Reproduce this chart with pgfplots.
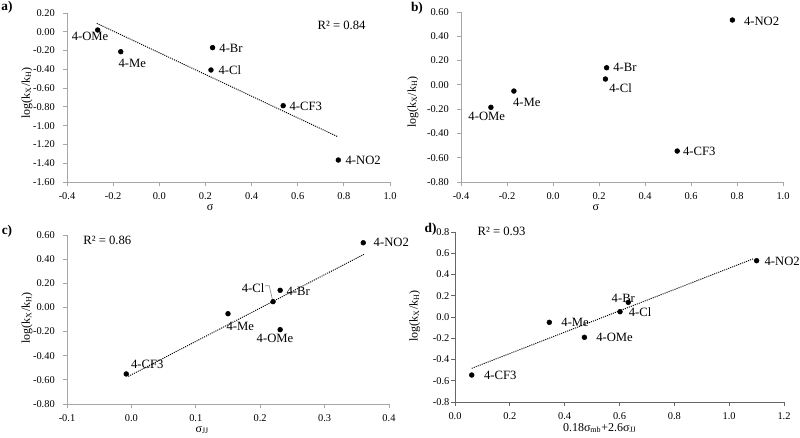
\documentclass[border=0pt]{standalone}
\usepackage{fontspec}
\setmainfont{Liberation Serif}
\usepackage{pgfplots}
\pgfplotsset{compat=1.18}
\tikzset{lab/.style={font=\fontsize{9.5}{10}\selectfont}}
\pgfplotsset{
  panel/.style={
    scale only axis,
    axis x line*=bottom, axis y line*=left,
    axis line style={black!35, line width=0.6pt},
    every tick/.style={black!35, line width=0.6pt},
    major tick length=3pt,
    tick align=outside,
    /pgf/number format/assume math mode=true,
    tick label style={font=\fontsize{7.8}{9}\selectfont, inner sep=1pt},
    xticklabel style={yshift=-4.1pt},
    label style={font=\fontsize{9}{10}\selectfont, inner sep=0.5pt},
    ylabel={log(k\textsubscript{X}/k\textsubscript{H})},
    clip=false,
  },
  ytwo/.style={yticklabel style={xshift=-5pt, /pgf/number format/.cd, fixed, fixed zerofill, precision=2}},
  yone/.style={yticklabel style={/pgf/number format/.cd, fixed, fixed zerofill, precision=1}},
  xone/.style={xticklabel style={/pgf/number format/.cd, fixed, fixed zerofill, precision=1}},
  pts/.style={only marks, mark=*, mark size=1.8pt, black},
  trend/.style={black, dash pattern=on 0.8pt off 0.8pt, line width=0.7pt, no marks},
}
\begin{document}
\begin{tikzpicture}
\useasboundingbox (0,0) rectangle (600pt,-327.75pt);
\node[font=\bfseries\fontsize{10}{11}\selectfont] at (5.25pt,-5.25pt) {a)};
\node[font=\bfseries\fontsize{10}{11}\selectfont] at (312.75pt,-6pt) {b)};
\node[font=\bfseries\fontsize{10}{11}\selectfont] at (5.25pt,-173.25pt) {c)};
\node[font=\bfseries\fontsize{10}{11}\selectfont] at (323pt,-171.75pt) {d)};

% ---------- a)
\begin{axis}[panel, ytwo, xone,
  at={(50.25pt,-136.5pt)}, anchor=south west,
  width=242.25pt, height=126.75pt,
  xmin=-0.4, xmax=1.0, ymin=-1.6, ymax=0.2,
  xtick={-0.4,-0.2,0,0.2,0.4,0.6,0.8,1.0},
  ytick={-1.6,-1.4,-1.2,-1.0,-0.8,-0.6,-0.4,-0.2,0,0.2},
  xlabel={σ},
  xlabel style={at={(axis description cs:0.443,0)}, anchor=base, yshift=-21pt},
  ylabel style={at={(axis description cs:-0.124,0.527)}, anchor=center},
]
\addplot[trend] coordinates {(-0.271,0.090) (0.773,-1.117)};
\addplot[pts] coordinates {(-0.267,0.019) (-0.167,-0.212) (0.231,-0.169) (0.224,-0.407) (0.537,-0.787) (0.776,-1.366)};
\node[lab] at (axis cs:-0.300,-0.052) {4-OMe};
\node[lab] at (axis cs:-0.117,-0.336) {4-Me};
\node[lab] at (axis cs:0.311,-0.176) {4-Br};
\node[lab] at (axis cs:0.306,-0.407) {4-Cl};
\node[lab] at (axis cs:0.635,-0.790) {4-CF3};
\node[lab] at (axis cs:0.884,-1.373) {4-NO2};
\node[lab] at (axis cs:0.790,0.065) {R² = 0.84};
\end{axis}

% ---------- b)
\begin{axis}[panel, ytwo, xone,
  at={(345.75pt,-136.5pt)}, anchor=south west,
  width=241.5pt, height=127.5pt,
  xmin=-0.4, xmax=1.0, ymin=-0.8, ymax=0.6,
  xtick={-0.4,-0.2,0,0.2,0.4,0.6,0.8,1.0},
  ytick={-0.8,-0.6,-0.4,-0.2,0,0.2,0.4,0.6},
  xlabel={σ},
  xlabel style={at={(axis description cs:0.419,0)}, anchor=base, yshift=-21pt},
  ylabel style={at={(axis description cs:-0.149,0.47)}, anchor=center},
]
\addplot[pts] coordinates {(-0.27,-0.185) (-0.17,-0.051) (0.233,0.141) (0.228,0.048) (0.54,-0.545) (0.78,0.534)};
\node[lab] at (axis cs:0.907,0.526) {4-NO2};
\node[lab] at (axis cs:0.313,0.141) {4-Br};
\node[lab] at (axis cs:0.294,-0.028) {4-Cl};
\node[lab] at (axis cs:-0.114,-0.147) {4-Me};
\node[lab] at (axis cs:-0.288,-0.262) {4-OMe};
\node[lab] at (axis cs:0.636,-0.550) {4-CF3};
\end{axis}

% ---------- c)
\begin{axis}[panel, ytwo, xone,
  at={(50.25pt,-303pt)}, anchor=south west,
  width=241.5pt, height=126.75pt,
  xmin=-0.1, xmax=0.4, ymin=-0.8, ymax=0.6,
  xtick={-0.1,0,0.1,0.2,0.3,0.4},
  ytick={-0.8,-0.6,-0.4,-0.2,0,0.2,0.4,0.6},
  xlabel={σ\textsubscript{JJ}},
  xlabel style={at={(axis description cs:0.42,0)}, anchor=base, yshift=-21pt},
  ylabel style={at={(axis description cs:-0.124,0.51)}, anchor=center},
]
\addplot[trend] coordinates {(-0.0048,-0.571) (0.361,0.44)};
\addplot[pts] coordinates {(-0.008,-0.551) (0.150,-0.052) (0.220,0.048) (0.231,0.142) (0.231,-0.184) (0.360,0.536)};
\draw[black!45, line width=0.5pt] (axis cs:0.2075,0.18) -- (axis cs:0.214,0.18) -- (axis cs:0.219,0.065);
\node[lab] at (axis cs:-0.0374,0.553) {R² = 0.86};
\node[lab, anchor=west] at (axis cs:0.369,0.536) {4-NO2};
\node[lab] at (axis cs:0.189,0.163) {4-Cl};
\node[lab] at (axis cs:0.259,0.130) {4-Br};
\node[lab] at (axis cs:0.169,-0.154) {4-Me};
\node[lab] at (axis cs:0.223,-0.256) {4-OMe};
\node[lab] at (axis cs:0.0247,-0.471) {4-CF3};
\end{axis}

% ---------- d)
\begin{axis}[panel, yone, xone,
  at={(341.25pt,-301.5pt)}, anchor=south west,
  width=246.75pt, height=127.5pt,
  xmin=0, xmax=1.2, ymin=-0.8, ymax=0.8,
  xtick={0,0.2,0.4,0.6,0.8,1.0,1.2},
  ytick={-0.8,-0.6,-0.4,-0.2,0,0.2,0.4,0.6,0.8},
  axis line style={black!60, line width=0.6pt},
  every tick/.style={black!60, line width=0.6pt},
  xlabel={0.18σ\textsubscript{mb}+2.6σ\textsubscript{JJ}},
  xlabel style={at={(axis description cs:0.44,0)}, anchor=base, yshift=-22pt},
  ylabel style={at={(axis description cs:-0.122,0.506)}, anchor=center},
]
\addplot[trend] coordinates {(0.061,-0.483) (1.09,0.55)};
\addplot[pts] coordinates {(0.061,-0.546) (0.344,-0.05) (0.472,-0.191) (0.602,0.05) (0.632,0.138) (1.10,0.53)};
\node[lab] at (axis cs:0.170,0.803) {R² = 0.93};
\node[lab, anchor=west] at (axis cs:1.112,0.52) {4-NO2};
\node[lab] at (axis cs:0.614,0.175) {4-Br};
\node[lab] at (axis cs:0.675,0.044) {4-Cl};
\node[lab, anchor=west] at (axis cs:0.371,-0.050) {4-Me};
\node[lab, anchor=west] at (axis cs:0.498,-0.191) {4-OMe};
\node[lab, anchor=west] at (axis cs:0.089,-0.553) {4-CF3};
\end{axis}
\end{tikzpicture}
\end{document}
